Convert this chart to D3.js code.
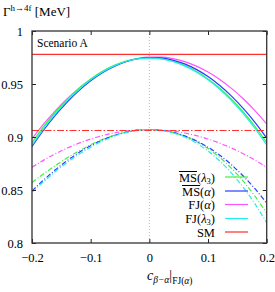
<html>
<head>
<script src="https://d3js.org/d3.v7.min.js"></script>
<style>
  body { margin: 0; background: white; }
  text { font-family: "Liberation Serif", "DejaVu Serif", serif; fill: black; }
</style>
</head>
<body>
<svg id="chart" width="275" height="292"></svg>
<script>
// c_{beta-alpha} sample points
const cba = [-0.2, -0.18, -0.16, -0.14, -0.12, -0.1, -0.08, -0.06, -0.04, -0.02, 0,
             0.02, 0.04, 0.06, 0.08, 0.1, 0.12, 0.14, 0.16, 0.18, 0.2];

// NLO widths (solid)
const msL3Nlo = [0.8948,0.9100,0.9236,0.9356,0.9460,0.9548,0.9620,0.9676,0.9716,0.9740,0.9748,
                 0.9740,0.9716,0.9676,0.9620,0.9548,0.9460,0.9356,0.9236,0.9100,0.8948];
const msANlo  = [0.8910,0.9066,0.9206,0.9330,0.9438,0.9530,0.9606,0.9666,0.9710,0.9738,0.9750,
                 0.9746,0.9726,0.9690,0.9638,0.9570,0.9486,0.9386,0.9270,0.9138,0.8990];
const fjANlo  = [0.8983,0.9123,0.9249,0.9361,0.9459,0.9543,0.9613,0.9669,0.9711,0.9739,0.9753,
                 0.9753,0.9739,0.9711,0.9669,0.9613,0.9543,0.9459,0.9361,0.9249,0.9123];
const fjL3Nlo = [0.8925,0.9081,0.9220,0.9343,0.9450,0.9540,0.9614,0.9671,0.9712,0.9737,0.9745,
                 0.9737,0.9712,0.9671,0.9614,0.9540,0.9450,0.9343,0.9220,0.9081,0.8925];

// LO widths (dash-dot)
const msL3Lo = [0.8570,0.8653,0.8731,0.8804,0.8869,0.8927,0.8976,0.9016,0.9045,0.9064,0.9070,
                0.9063,0.9043,0.9008,0.8958,0.8891,0.8807,0.8704,0.8583,0.8442,0.8280];
const msALo  = [0.8490,0.8595,0.8691,0.8777,0.8853,0.8918,0.8972,0.9014,0.9045,0.9064,0.9070,
                0.9064,0.9044,0.9011,0.8964,0.8903,0.8828,0.8738,0.8632,0.8512,0.8375];
const fjALo  = [0.8714,0.8782,0.8842,0.8896,0.8942,0.8981,0.9013,0.9038,0.9056,0.9066,0.9070,
                0.9066,0.9056,0.9038,0.9013,0.8981,0.8942,0.8896,0.8842,0.8782,0.8714];
const fjL3Lo = [0.8480,0.8580,0.8674,0.8760,0.8837,0.8904,0.8962,0.9008,0.9042,0.9063,0.9070,
                0.9062,0.9039,0.9000,0.8943,0.8868,0.8774,0.8660,0.8525,0.8369,0.8190];

const smNlo = 0.978;
const smLo = 0.907;

const xTicks = [-0.2, -0.1, 0, 0.1, 0.2];
const xTickLabels = ["\u22120.2", "\u22120.1", "0", "0.1", "0.2"];
const yTicks = [0.8, 0.85, 0.9, 0.95, 1];
const yTickLabels = ["0.8", "0.85", "0.9", "0.95", "1"];

const L = 32, R = 266.7, T = 31, B = 243;
const svg = d3.select('#chart');
const x = d3.scaleLinear().domain([-0.2, 0.2]).range([L, R]);
const y = d3.scaleLinear().domain([0.8, 1]).range([B, T]);

svg.append('defs').append('clipPath').attr('id', 'clip')
  .append('rect').attr('x', L).attr('y', T).attr('width', R - L).attr('height', B - T);

// zero line
svg.append('line')
  .attr('x1', x(0)).attr('x2', x(0)).attr('y1', T).attr('y2', B)
  .attr('stroke', '#bbb').attr('stroke-width', 1).attr('stroke-dasharray', '1,2');

const colors = { msL3: '#40f040', msA: '#2a3cff', fjA: '#ff55ff', fjL3: '#22eeee', sm: '#ff3030' };
const dash = '5,2,1,2';

const line = d3.line().x((d, i) => x(cba[i])).y(d => y(d)).curve(d3.curveMonotoneX);
const g = svg.append('g').attr('clip-path', 'url(#clip)');

const series = [
  { v: fjALo, c: colors.fjA, d: dash },
  { v: msL3Lo, c: colors.msL3, d: dash },
  { v: msALo, c: colors.msA, d: dash },
  { v: fjL3Lo, c: colors.fjL3, d: dash },
  { v: fjANlo, c: colors.fjA, d: null },
  { v: msL3Nlo, c: colors.msL3, d: null },
  { v: msANlo, c: colors.msA, d: null },
  { v: fjL3Nlo, c: colors.fjL3, d: null }
];
series.forEach(s => {
  g.append('path').datum(s.v).attr('d', line)
    .attr('fill', 'none').attr('stroke', s.c).attr('stroke-width', 1.2)
    .attr('stroke-dasharray', s.d);
});

g.append('line').attr('x1', L).attr('x2', R).attr('y1', y(smNlo)).attr('y2', y(smNlo))
  .attr('stroke', colors.sm).attr('stroke-width', 1.2);
g.append('line').attr('x1', L).attr('x2', R)
  .attr('y1', Math.round(y(smLo)) + 0.5).attr('y2', Math.round(y(smLo)) + 0.5)
  .attr('stroke', colors.sm).attr('stroke-width', 1).attr('stroke-dasharray', '7,2,1.5,2');

// axes (ticks inside)
const tickLen = 4;
svg.append('g').attr('transform', `translate(0,${B})`)
  .call(d3.axisBottom(x).tickValues(xTicks).tickSize(-tickLen).tickFormat((d, i) => xTickLabels[i]).tickPadding(10))
  .call(a => a.select('.domain').remove());
svg.append('g').attr('transform', `translate(0,${T})`)
  .call(d3.axisTop(x).tickValues(xTicks).tickSize(-tickLen).tickFormat(''))
  .call(a => a.select('.domain').remove());
svg.append('g').attr('transform', `translate(${L},0)`)
  .call(d3.axisLeft(y).tickValues(yTicks).tickSize(-tickLen).tickFormat((d, i) => yTickLabels[i]).tickPadding(9))
  .call(a => a.select('.domain').remove());
svg.append('g').attr('transform', `translate(${R},0)`)
  .call(d3.axisRight(y).tickValues(yTicks).tickSize(-tickLen).tickFormat(''))
  .call(a => a.select('.domain').remove());
svg.selectAll('.tick line').attr('stroke', '#222');
svg.selectAll('.tick text').style('font-family', '"Liberation Serif", serif').style('font-size', '12.5px').attr('fill', 'black');

svg.append('rect').attr('x', L).attr('y', T).attr('width', R - L).attr('height', B - T)
  .attr('fill', 'none').attr('stroke', '#333').attr('stroke-width', 1.3);

// title
const title = svg.append('text').attr('x', 3).attr('y', 16).style('font-size', '13px');
title.append('tspan').text('\u0393');
title.append('tspan').attr('dy', -5).style('font-size', '9px').text('h\u21924f');
title.append('tspan').attr('dy', 5).text(' [MeV]');

svg.append('text').attr('x', 37).attr('y', 47).style('font-size', '11.5px').text('Scenario A');

// x label
const xl = svg.append('text').attr('x', 147).attr('y', 280).style('font-size', '14px');
xl.append('tspan').style('font-style', 'italic').text('c');
xl.append('tspan').attr('dy', 3).style('font-size', '9.5px').style('font-style', 'italic').text('\u03b2\u2212\u03b1');
xl.append('tspan').attr('dy', -3).text('|');
xl.append('tspan').attr('dy', 4).style('font-size', '9.5px').text('FJ(');
xl.append('tspan').style('font-size', '9.5px').style('font-style', 'italic').text('\u03b1');
xl.append('tspan').style('font-size', '9.5px').text(')');

// legend
const legend = [
  { name: 'MS', arg: '\u03bb', sub: '3', c: colors.msL3, bar: true },
  { name: 'MS', arg: '\u03b1', sub: '', c: colors.msA, bar: true },
  { name: 'FJ', arg: '\u03b1', sub: '', c: colors.fjA, bar: false },
  { name: 'FJ', arg: '\u03bb', sub: '3', c: colors.fjL3, bar: false },
  { name: 'SM', arg: null, sub: '', c: colors.sm, bar: false }
];
const legY = [177, 191, 204.5, 218.5, 232];
legend.forEach((d, i) => {
  const t = svg.append('text').attr('x', 215).attr('y', legY[i] + 4.5)
    .attr('text-anchor', 'end').style('font-size', '12.5px');
  t.append('tspan').text(d.name);
  if (d.arg) {
    t.append('tspan').text('(');
    t.append('tspan').style('font-style', 'italic').text(d.arg);
    if (d.sub) t.append('tspan').attr('dy', 2).style('font-size', '8.5px').text(d.sub);
    t.append('tspan').attr('dy', d.sub ? -2 : 0).text(')');
  }
  if (d.bar) {
    // overline over "MS"
    const n = t.node();
    const s0 = n.getStartPositionOfChar(0);
    const e1 = n.getEndPositionOfChar(1);
    const oy = Math.round(legY[i] - 6.5) + 0.5;
    svg.append('line').attr('x1', s0.x).attr('x2', e1.x)
      .attr('y1', oy).attr('y2', oy)
      .attr('stroke', 'black').attr('stroke-width', 1);
  }
  svg.append('line').attr('x1', 225).attr('x2', 248).attr('y1', legY[i]).attr('y2', legY[i])
    .attr('stroke', d.c).attr('stroke-width', 1.2);
});
</script>
</body>
</html>
